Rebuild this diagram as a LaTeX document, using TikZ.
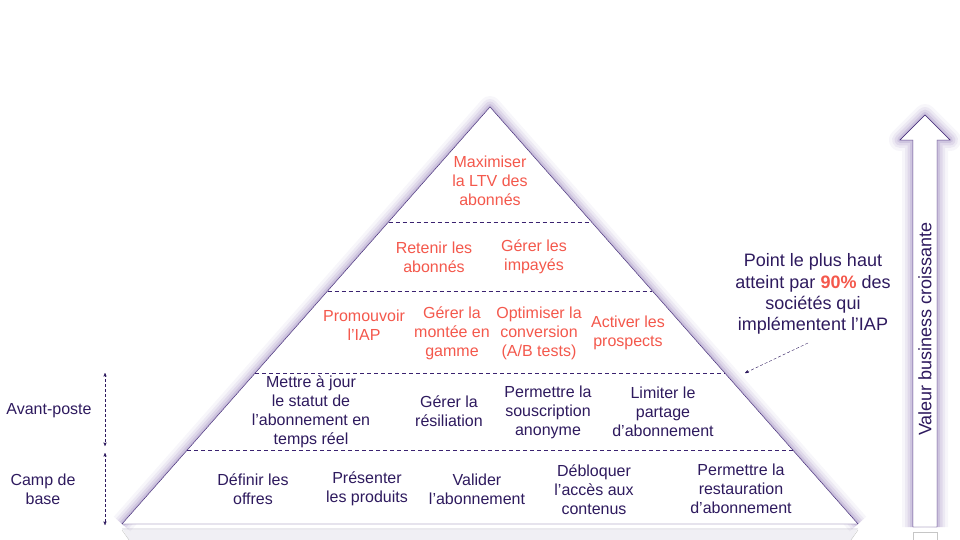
\documentclass[tikz,border=0pt]{standalone}
\usepackage{fontspec}
\setmainfont{Liberation Sans}
\usetikzlibrary{arrows}
\definecolor{ink}{HTML}{2E1A5E}
\definecolor{coral}{HTML}{F4584C}
\definecolor{rim}{HTML}{3A2270}
\definecolor{glow}{HTML}{6A4C9C}
\begin{document}
\begin{tikzpicture}[x=1pt,y=-1pt,>=stealth',
	task/.style={font=\fontsize{16}{19}\selectfont,align=center,text=ink,inner sep=0pt},
	goal/.style={task,text=coral},
	note/.style={task,font=\fontsize{18}{21.3}\selectfont},
	level/.style={rim,thin,dash pattern=on 4pt off 3pt}]
\useasboundingbox (0,0) rectangle (960,540);
\coordinate (apex) at (490,107);
\coordinate (bl) at (122,524);
\coordinate (br) at (858,524);
% reflections under the base
\fill[ink!7] (122,528) -- (858,528) -- (851,540) -- (129,540) -- cycle;
\draw[gray!45] (122,530) -- (129,540) (858,530) -- (851,540) (122,529) -- (858,529);
\draw[gray!45] (913,540) -- (913,532) -- (937,532) -- (937,540);
% glow
\foreach \w/\o in {22/0.05,16/0.08,11/0.1,6/0.14,2/0.2}
	\draw[glow,line width=\w pt,opacity=\o,line join=round] (bl) -- (apex) -- (br);
\foreach \w/\o in {22/0.05,16/0.08,11/0.1,6/0.14,2/0.2}
	\draw[glow,line width=\w pt,opacity=\o,line join=round]
		(913,527) -- (913,140) -- (900,140) -- (925,115) -- (950,140) -- (937,140) -- (937,527);
% pyramid
\draw[rim,fill=white,line join=round] (apex) -- (bl) -- (br) -- cycle;
\path (apex) -- (bl) coordinate[pos=0.2758] (l1) coordinate[pos=0.4412] (l2)
	coordinate[pos=0.6379] (l3) coordinate[pos=0.8225] (l4);
\path (apex) -- (br) coordinate[pos=0.2758] (r1) coordinate[pos=0.4412] (r2)
	coordinate[pos=0.6379] (r3) coordinate[pos=0.8225] (r4);
\draw[level] (l1) -- (r1) (l2) -- (r2) (l3) -- (r3) (l4) -- (r4);
% arrow
\draw[rim,fill=white,line join=miter]
	(913,527) -- (913,140) -- (900,140) -- (925,115) -- (950,140) -- (937,140) -- (937,527) -- cycle;
\node[note,rotate=90] (value) at (925,329) {Valeur business croissante};
% top levels
\node[goal] (ltv) at (490,181) {Maximiser\\la LTV des\\abonnés};
\node[goal] (retain) at (434,257) {Retenir les\\abonnés};
\node[goal] (unpaid) at (534,257) {Gérer les\\impayés};
\node[goal] (promo) at (364,325) {Promouvoir\\l’IAP};
\node[goal] (upgrade) at (452,333) {Gérer la\\montée en\\gamme};
\node[goal] (abtest) at (539,333) {Optimiser la\\conversion\\(A/B tests)};
\node[goal] (prospect) at (628,333) {Activer les\\prospects};
% outpost
\node[task] (status) at (311,412) {Mettre à jour\\le statut de\\l’abonnement en\\temps réel};
\node[task] (cancel) at (449,411) {Gérer la\\résiliation};
\node[task] (anon) at (548,412) {Permettre la\\souscription\\anonyme};
\node[task] (share) at (663,412) {Limiter le\\partage\\d’abonnement};
% base camp
\node[task] (offers) at (253,489) {Définir les\\offres};
\node[task] (products) at (367,489) {Présenter\\les produits};
\node[task] (validate) at (477,489) {Valider\\l’abonnement};
\node[task] (unlock) at (594,490) {Débloquer\\l’accès aux\\contenus};
\node[task] (restore) at (741,489) {Permettre la\\restauration\\d’abonnement};
% side labels
\node[task] (outpost) at (49,411) {Avant-poste};
\node[task] (camp) at (43,489) {Camp de\\base};
\coordinate (o1) at (105,373);
\coordinate (o2) at (105,446);
\coordinate (c1) at (105,453);
\coordinate (c2) at (105,525);
\draw[<->,ink,dash pattern=on 3pt off 2pt] (o1) -- (o2);
\draw[<->,ink,dash pattern=on 3pt off 2pt] (c1) -- (c2);
% note
\node[note] (hint) at (813,294) {Point le plus haut\\atteint par {\bfseries\color{coral}90\%} des\\sociétés qui\\implémentent l’IAP};
\coordinate (peak) at (745,373);
\draw[->,ink,dash pattern=on 3pt off 2pt] (808,343) -- (peak);
\end{tikzpicture}
\end{document}
